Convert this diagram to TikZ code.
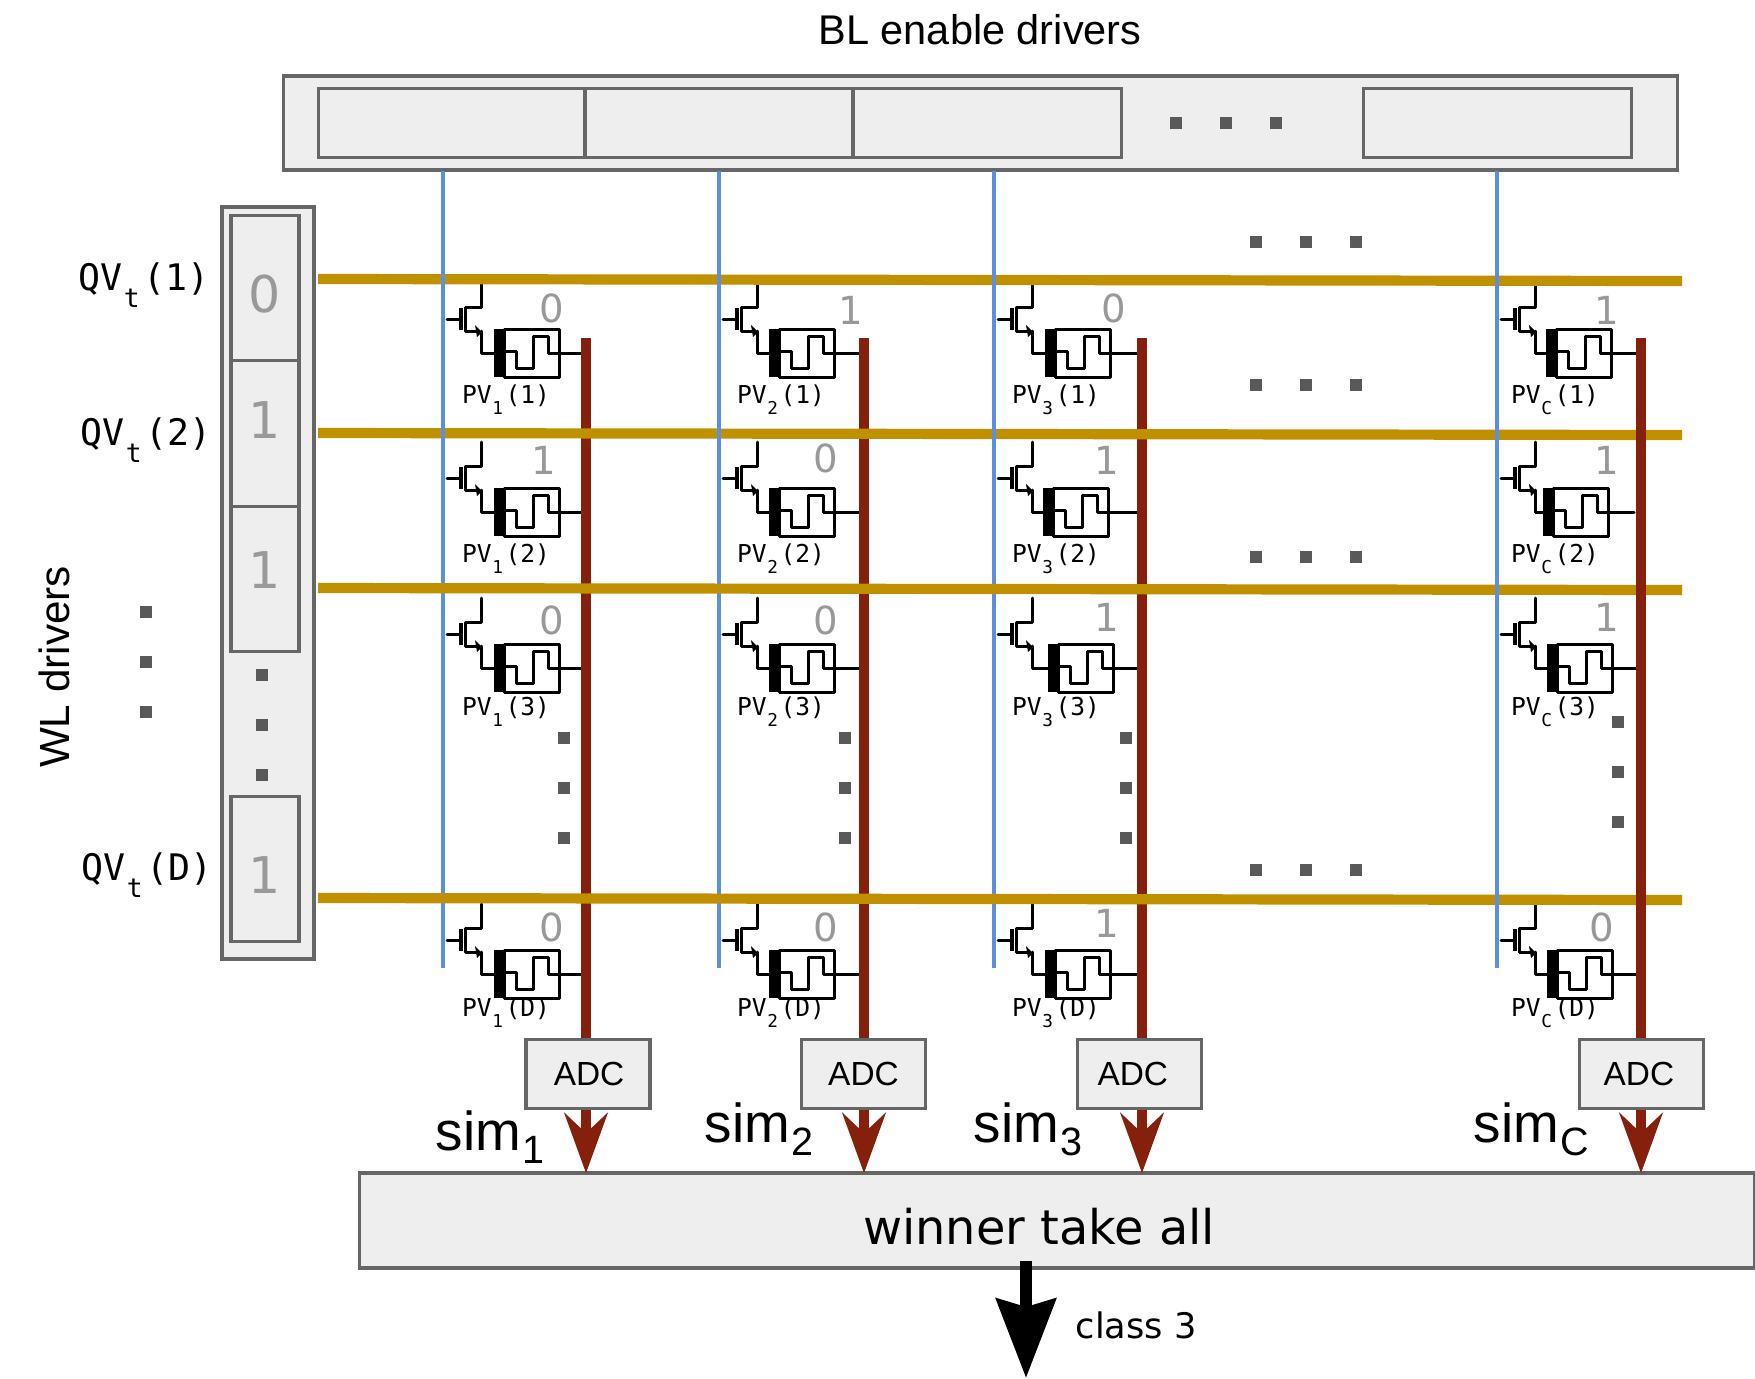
\documentclass[tikz,border=0pt]{standalone}
\usepackage{fontspec}
\usepackage{graphicx}
\setmainfont{Liberation Sans}
\setmonofont{DejaVu Sans Mono}
\newfontfamily\dejavu{DejaVu Sans}
\usetikzlibrary{arrows.meta}
\definecolor{boxgray}{HTML}{EEEEEE}
\definecolor{edgegray}{HTML}{666666}
\definecolor{wlgold}{HTML}{BF9000}
\definecolor{blblue}{HTML}{5B8FE0}
\definecolor{bitred}{HTML}{85200C}
\definecolor{bitgray}{HTML}{999999}
\definecolor{dotgray}{HTML}{595959}
\tikzset{>=stealth,
	% boxes
	grayrect/.style={draw=edgegray,fill=boxgray,line width=1pt,inner sep=0pt},
	adcbox/.style={grayrect,minimum width=1.24cm,minimum height=0.69cm},
	% lines
	wordline/.style={color=wlgold,line width=2.9pt},
	enableline/.style={color=blblue,line width=0.95pt},
	bitline/.style={color=bitred,line width=2.8pt},
	bitarrow/.style={bitline,-{Stealth[length=6mm,width=4.3mm,inset=2mm]}},
	cellwire/.style={line width=0.85pt,line cap=round,line join=round},
	% text
	bitlabel/.style={color=bitgray,font=\dejavu\fontsize{11}{11}\selectfont,inner sep=0pt},
	pvlabel/.style={font=\fontsize{7}{8}\ttfamily,inner sep=0pt,anchor=base},
	qvlabel/.style={font=\fontsize{10.4}{11}\ttfamily,inner sep=0pt,anchor=base},
	simlabel/.style={font=\fontsize{15.6}{16}\selectfont,inner sep=0pt,anchor=base west},
}
% subscript set lower than usual
\newcommand{\lowsub}[2][0.46em]{\kern0.03em\raisebox{-#1}{\scalebox{0.72}{#2}}\kern0.1em}
% three gray squares in a row or a column
\newcommand{\dotrow}[2]{\foreach \dx in {-50,0,50} \fill[dotgray] (#1+\dx-6,#2-6) rectangle (#1+\dx+6,#2+6);}
\newcommand{\dotcol}[2]{\foreach \dy in {-50,0,50} \fill[dotgray] (#1-6,#2+\dy-6) rectangle (#1+6,#2+\dy+6);}
% x, y of transistor drain, shift of the box, column, row, bit, bit position, label position, wire end
\newcommand{\pvcell}[9]{
	\begin{scope}[shift={(#1,#2)}]
		\draw[cellwire] (0,0) -- (0,24) -- (-16,24) -- (-16,48) -- (-2,48);
		\fill (-6,42) -- (1,49) -- (-4,54) -- cycle;
		\draw[cellwire] (0,48) -- (0,70) -- (#3,70);
		\draw[line width=1.1pt] (-20,25) -- (-20,47);
		\draw[cellwire] (-34,36) -- (-20,36);
		\fill (#3,46) rectangle (#3+10,94);
		\draw[cellwire] (#3+10,46) rectangle (#3+65,94);
		\draw[cellwire] (#3+10,68) -- (#3+22,68) -- (#3+22,85) -- (#3+39,85) -- (#3+39,53) -- (#3+54,53) -- (#3+54,70) -- (#3+65,70) -- (#9-#1,70);
	\end{scope}
	\node[pvlabel] (pv#4#5) at (#8) {PV\lowsub{#4}(#5)};
	\node[bitlabel] (val#4#5) at (#7) {#6};
}
\begin{document}
\begin{tikzpicture}[x=0.01cm,y=-0.01cm]
	\useasboundingbox (0,0) rectangle (1755,1378);

	% BL enable drivers
	\node (bltitle) at (980,30) {\fontsize{11.8}{12}\selectfont BL enable drivers};
	\node[grayrect,minimum width=13.93cm,minimum height=0.94cm] (blouter) at (980.5,123) {};
	\node[grayrect,minimum width=2.66cm,minimum height=0.69cm] (bl1) at (451.5,123) {};
	\node[grayrect,minimum width=2.68cm,minimum height=0.69cm] (bl2) at (719,123) {};
	\node[grayrect,minimum width=2.68cm,minimum height=0.69cm] (bl3) at (987.5,123) {};
	\node[grayrect,minimum width=2.68cm,minimum height=0.69cm] (blc) at (1497.5,123) {};
	\dotrow{1226}{123}

	% WL drivers
	\node[rotate=90] (wltitle) at (54,667) {\fontsize{12}{12}\selectfont WL drivers};
	\node[grayrect,minimum width=0.92cm,minimum height=7.52cm] (wlouter) at (268,583) {};
	\node[grayrect,minimum width=0.68cm,minimum height=1.45cm] (wl1) at (265,288) {};
	\node[grayrect,minimum width=0.68cm,minimum height=1.46cm] (wl2) at (265,433.5) {};
	\node[grayrect,minimum width=0.68cm,minimum height=1.45cm] (wl3) at (265,579) {};
	\node[grayrect,minimum width=0.68cm,minimum height=1.45cm] (wld) at (265,869) {};
	\foreach \name/\yy/\val in {v1/294/0,v2/420/1,v3/570/1,vd/875/1}
		\node[color=bitgray,inner sep=0pt,font=\dejavu\fontsize{14.4}{15}\selectfont] (\name) at (265,\yy) {\val};
	\dotcol{262}{725}
	\dotcol{146}{662}
	\node[qvlabel] (qv1) at (144,290) {QV\lowsub[0.48em]{t}(1)};
	\node[qvlabel] (qv2) at (146,445) {QV\lowsub[0.48em]{t}(2)};
	\node[qvlabel] (qvd) at (147,880) {QV\lowsub[0.48em]{t}(D)};

	% bit lines start here
	\coordinate (bit1) at (586,338);
	\coordinate (bit2) at (864,338);
	\coordinate (bit3) at (1142,338);
	\coordinate (bitc) at (1641,338);

	% cells
	\pvcell{481}{283}{13}{1}{1}{0}{552,308}{506,403}{586}
	\pvcell{481}{442}{13}{1}{2}{1}{544,460}{506,562}{586}
	\pvcell{481}{598}{13}{1}{3}{0}{552,620}{506,715}{586}
	\pvcell{481}{904}{13}{1}{D}{0}{552,927}{506,1016}{586}

	\pvcell{757}{283}{12}{2}{1}{1}{851,310}{781,403}{864}
	\pvcell{757}{442}{12}{2}{2}{0}{826,458}{781,562}{864}
	\pvcell{757}{598}{12}{2}{3}{0}{826,620}{781,715}{864}
	\pvcell{757}{904}{12}{2}{D}{0}{826,927}{781,1016}{864}

	\pvcell{1032}{283}{13}{3}{1}{0}{1114,308}{1056,403}{1142}
	\pvcell{1032}{442}{11}{3}{2}{1}{1107,460}{1056,562}{1142}
	\pvcell{1032}{598}{16}{3}{3}{1}{1107,617}{1056,715}{1142}
	\pvcell{1032}{904}{13}{3}{D}{1}{1107,923}{1056,1016}{1142}

	\pvcell{1535}{283}{11}{C}{1}{1}{1607,310}{1555,403}{1641}
	\pvcell{1535}{442}{8}{C}{2}{1}{1607,460}{1555,562}{1634}
	\pvcell{1535}{598}{12}{C}{3}{1}{1607,617}{1555,715}{1641}
	\pvcell{1535}{904}{12}{C}{D}{0}{1602,927}{1555,1016}{1641}

	% dots between the cells
	\dotrow{1306}{242}
	\dotrow{1306}{385}
	\dotrow{1306}{557}
	\dotrow{1306}{870}
	\dotcol{564}{788}
	\dotcol{845}{788}
	\dotcol{1126}{788}
	\dotcol{1618}{772}

	% ADC and output
	\node[adcbox] (adc1) at (588,1074) {\kern0.6pt\fontsize{9.5}{10}\selectfont ADC};
	\node[adcbox] (adc2) at (863.5,1074) {\fontsize{9.5}{10}\selectfont ADC};
	\node[adcbox] (adc3) at (1139.5,1074) {\kern-3.8pt\fontsize{9.5}{10}\selectfont ADC};
	\node[adcbox] (adcc) at (1641.5,1074) {\kern-1.5pt\fontsize{9.5}{10}\selectfont ADC};
	\node[grayrect,minimum width=13.94cm,minimum height=0.95cm] (winner) at (1057,1220.5) {};
	\node[inner sep=0pt] (winnertext) at (1039,1227) {\dejavu\fontsize{13.6}{14}\selectfont winner take all};

	% bit lines
	\foreach \n in {1,2,3,c} {
		\draw[bitline] (bit\n) -- (bit\n |- adc\n.north);
		\draw[bitarrow] (bit\n |- adc\n.south) -- ([yshift=-0.02cm]bit\n |- winner.north);
	}

	% word lines and enable lines, in the order they cross
	\draw[wordline] (318,279) -- (1682,281);
	\draw[wordline] (318,433) -- (1682,435);
	\foreach \n/\xx in {1/443,2/719,3/994}
		\draw[enableline] (\xx,171) -- (\xx,968);
	\draw[wordline] (318,588) -- (1682,590);
	\draw[wordline] (318,898) -- (1682,900);
	% last column lies above the word lines
	\draw[enableline] (1497,171) -- (1497,968);
	\draw[bitline] (bitc) -- (bitc |- adcc.north);

	\node[simlabel] (sim1) at (435,1150) {sim\lowsub[0.24em]{1}};
	\node[simlabel] (sim2) at (704,1142) {sim\lowsub[0.24em]{2}};
	\node[simlabel] (sim3) at (973,1142) {sim\lowsub[0.24em]{3}};
	\node[simlabel] (simc) at (1473,1142) {sim\lowsub[0.24em]{C}};

	\coordinate (classin) at (1026,1261);
	\coordinate (classout) at (1026,1378);
	\draw[line width=3.4pt,-{Stealth[length=7.9mm,width=5.9mm,inset=0.8mm]}] (classin) -- (classout);
	\node[inner sep=0pt,anchor=west] (classtext) at (1075,1325) {\dejavu\fontsize{10}{11}\selectfont class 3};
\end{tikzpicture}
\end{document}
